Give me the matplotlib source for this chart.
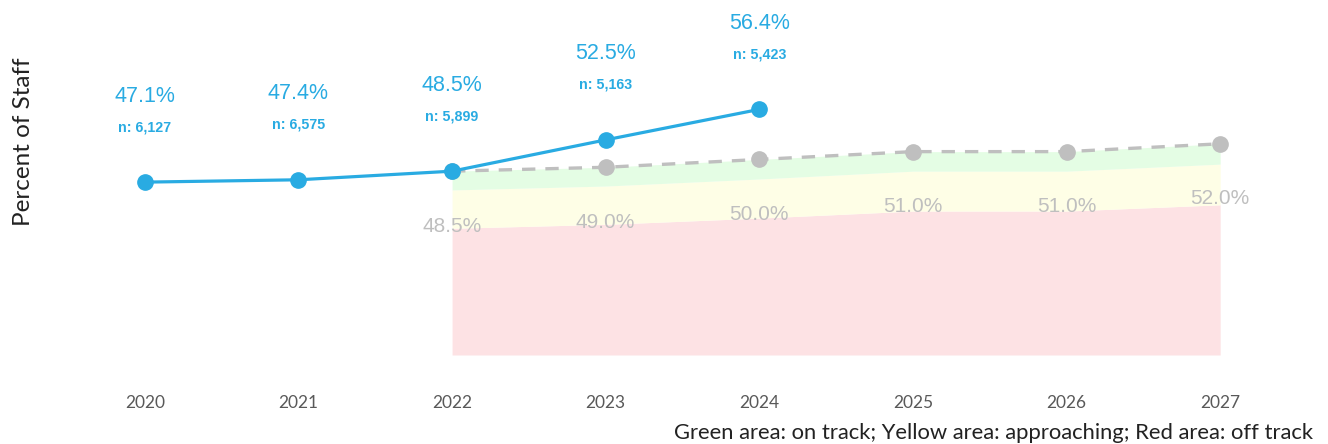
import matplotlib
matplotlib.use("Agg")
import matplotlib.pyplot as plt

# ---- data ----
years = [2020, 2021, 2022, 2023, 2024, 2025, 2026, 2027]
actual_years = [2020, 2021, 2022, 2023, 2024]
actual_pct = [47.1, 47.4, 48.5, 52.5, 56.4]
actual_n = ["6,127", "6,575", "5,899", "5,163", "5,423"]
target_years = [2022, 2023, 2024, 2025, 2026, 2027]
target_pct = [48.5, 49.0, 50.0, 51.0, 51.0, 52.0]
green_low = [46.1, 46.6, 47.5, 48.5, 48.5, 49.4]   # on track lower bound
yellow_low = [41.2, 41.7, 42.5, 43.4, 43.4, 44.2]  # approaching lower bound
y_min, y_max = 25, 70
ylabel = "Percent of Staff"
footer = "Green area: on track; Yellow area: approaching; Red area: off track"

BLUE = "#29ABE2"
GREY = "#BFBFBF"

fig = plt.figure(figsize=(13.28, 4.44), dpi=100)
ax = fig.add_axes([68 / 1328, (444 - 355) / 444, 1229 / 1328, 352 / 444])
ax.set_xlim(years[0] - 0.5, years[-1] + 0.5)
ax.set_ylim(y_min, y_max)

# bands
ax.fill_between(target_years, [y_min] * len(target_years), yellow_low,
                color="#FDE2E4", lw=0, zorder=1)
ax.fill_between(target_years, yellow_low, green_low,
                color="#FEFEE6", lw=0, zorder=1)
ax.fill_between(target_years, green_low, target_pct,
                color="#E4FDE4", lw=0, zorder=1)

# target line
ax.plot(target_years, target_pct, color=GREY, lw=2.4, ls=(0, (4, 3)),
        marker="o", ms=11, zorder=3)
for x, v in zip(target_years, target_pct):
    ax.annotate(f"{v:.1f}%", (x, v), xytext=(0, -55), textcoords="offset pixels",
                ha="center", va="center", color=GREY, fontsize=15,
                family="Liberation Sans", zorder=4)

# actual line
ax.plot(actual_years, actual_pct, color=BLUE, lw=2.3, marker="o", ms=11, zorder=5)
for x, v, n in zip(actual_years, actual_pct, actual_n):
    ax.annotate(f"{v:.1f}%", (x, v), xytext=(0, 86), textcoords="offset pixels",
                ha="center", va="center", color=BLUE, fontsize=15.5,
                family="Liberation Sans", annotation_clip=False)
    ax.annotate(f"n: {n}", (x, v), xytext=(0, 55), textcoords="offset pixels",
                ha="center", va="center", color=BLUE, fontsize=10.3,
                fontweight="bold", family="Liberation Sans", annotation_clip=False)

for s in ax.spines.values():
    s.set_visible(False)
ax.set_yticks([])
ax.set_xticks(years)
ax.set_xticklabels([str(y) for y in years], family="Lato", fontsize=12.5, color="#595959")
ax.tick_params(axis="x", length=0, pad=29)

fig.text(24 / 1328, 1 - 142 / 444, ylabel, rotation=90, ha="center", va="center",
         family="Lato", fontsize=17.5, color="#222222")
fig.text(1313 / 1328, 1 - 433 / 444, footer, ha="right", va="center",
         family="Lato", fontsize=15.8, color="#222222")

fig.savefig("out.png", dpi=100)
